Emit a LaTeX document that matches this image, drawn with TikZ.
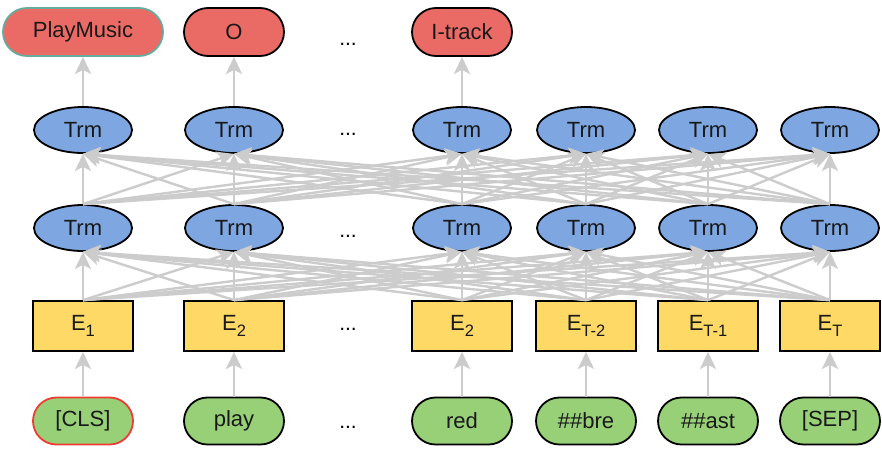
\documentclass[tikz,border=0pt]{standalone}
\usepackage{fontspec}
\setmainfont{Liberation Sans}
\usetikzlibrary{shapes.geometric,arrows.meta}
\definecolor{redfill}{HTML}{EA6B66}
\definecolor{bluefill}{HTML}{7EA6E0}
\definecolor{yellowfill}{HTML}{FFD966}
\definecolor{greenfill}{HTML}{97D077}
\definecolor{tealline}{HTML}{67AB9F}
\definecolor{redline}{HTML}{EE3B35}
\definecolor{edgegray}{HTML}{CCCCCC}
\newcommand{\Esub}[1]{E\raisebox{-6pt}{\fontsize{16.5}{16.5}\selectfont #1}}
\tikzset{
  base/.style={draw=black, line width=1.8pt, inner sep=0pt, font=\fontsize{22}{26}\selectfont, text=black!90},
  outbox/.style={base, fill=redfill, rounded corners=24pt, minimum width=100pt, minimum height=48pt},
  trmbox/.style={base, ellipse, fill=bluefill, minimum width=98pt, minimum height=46pt},
  embbox/.style={base, rectangle, fill=yellowfill, minimum width=100pt, minimum height=50pt},
  tokbox/.style={base, fill=greenfill, rounded corners=23.5pt, minimum width=100pt, minimum height=47pt},
  dotsnode/.style={inner sep=0pt, font=\fontsize{21}{24}\selectfont},
  conn/.style={draw=edgegray, line width=2.4pt, -{Stealth[length=17pt,width=16pt,inset=4pt]}},
}
\begin{document}
\begin{tikzpicture}[x=1pt,y=-1pt]
\useasboundingbox (0,0) rectangle (882,450);
% column x positions
\def\xa{83}\def\xb{234}\def\xc{462}\def\xd{586}\def\xe{708}\def\xf{830}
% tokens
\node[tokbox, draw=redline] (g1) at (\xa,421) {[CLS]};
\node[tokbox] (g2) at (\xb,421) {play};
\node[tokbox] (g3) at (\xc,421) {red};
\node[tokbox] (g4) at (\xd,421) {\#\#bre};
\node[tokbox] (g5) at (\xe,421) {\#\#ast};
\node[tokbox] (g6) at (\xf,421) {[SEP]};
% embeddings
\node[embbox] (e1) at (\xa,326) {\Esub{1}};
\node[embbox] (e2) at (\xb,326) {\Esub{2}};
\node[embbox] (e3) at (\xc,326) {\Esub{2}};
\node[embbox] (e4) at (\xd,326) {\Esub{T-2}};
\node[embbox] (e5) at (\xe,326) {\Esub{T-1}};
\node[embbox] (e6) at (\xf,326) {\Esub{T}};
% transformer layer 1
\node[trmbox] (a1) at (\xa,228) {Trm};
\node[trmbox] (a2) at (\xb,228) {Trm};
\node[trmbox] (a3) at (\xc,228) {Trm};
\node[trmbox] (a4) at (\xd,228) {Trm};
\node[trmbox] (a5) at (\xe,228) {Trm};
\node[trmbox] (a6) at (\xf,228) {Trm};
% transformer layer 2
\node[trmbox] (b1) at (\xa,130) {Trm};
\node[trmbox] (b2) at (\xb,130) {Trm};
\node[trmbox] (b3) at (\xc,130) {Trm};
\node[trmbox] (b4) at (\xd,130) {Trm};
\node[trmbox] (b5) at (\xe,130) {Trm};
\node[trmbox] (b6) at (\xf,130) {Trm};
% outputs
\node[outbox, draw=tealline, minimum width=160pt] (o1) at (\xa,32) {PlayMusic};
\node[outbox] (o2) at (\xb,32) {O};
\node[outbox] (o3) at (\xc,32) {I-track};
% dots
\node[dotsnode] (d1) at (348,44) {...};
\node[dotsnode] (d2) at (348,134) {...};
\node[dotsnode] (d3) at (348,236) {...};
\node[dotsnode] (d4) at (348,329) {...};
\node[dotsnode] (d5) at (348,427) {...};
% connectors
\foreach \i in {1,...,6} {
  \draw[conn] (g\i.north) -- (e\i.south);
}
\foreach \i in {1,...,6} {
  \foreach \j in {1,...,6} {
    \draw[conn] (e\i.north) -- (a\j.south);
    \draw[conn] (a\i.north) -- (b\j.south);
  }
}
\foreach \i in {1,2,3} {
  \draw[conn] (b\i.north) -- (o\i.south);
}
\end{tikzpicture}
\end{document}
